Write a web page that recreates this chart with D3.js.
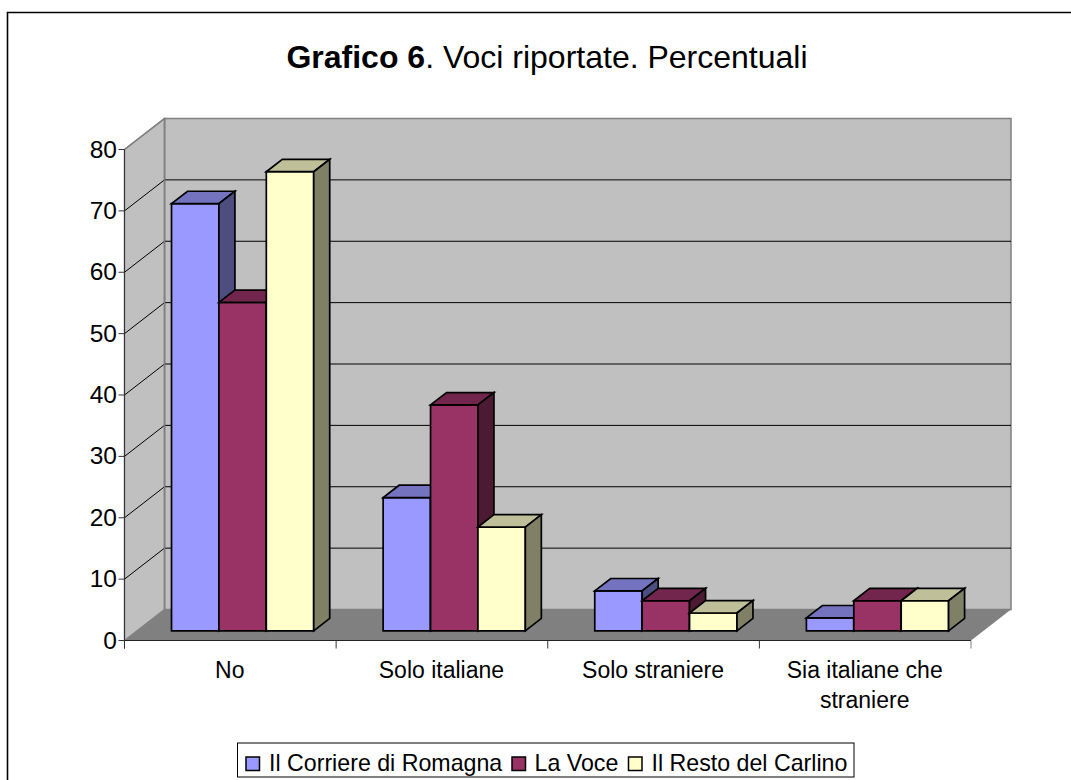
<!DOCTYPE html>
<html><head><meta charset="utf-8">
<script src="https://cdn.jsdelivr.net/npm/d3@7"></script>
<style>html,body{margin:0;padding:0;background:#fff;overflow:hidden}svg{display:block}text{font-family:"Liberation Sans",Arial,sans-serif;fill:#000}</style>
</head><body><svg id="c" width="1071" height="780"></svg>
<script>
const categories = [["No"],["Solo italiane"],["Solo straniere"],["Sia italiane che","straniere"]];
const seriesNames = ["Il Corriere di Romagna","La Voce","Il Resto del Carlino"];
const corriere = [69.6,21.7,6.5,2.1];
const laVoce = [53.5,36.8,4.9,4.9];
const carlino = [74.8,16.9,2.9,4.9];
const seriesValues = [corriere,laVoce,carlino];
const colors = ["#9999ff","#993366","#ffffcc"];
const topColors = ["#7373bf","#73264d","#bfbf99"];
const sideColors = ["#4d4d80","#4d1a33","#808066"];
const ticks = [0,10,20,30,40,50,60,70,80];

const svg = d3.select("#c");
const dep = {x:40, y:-31};
const x = d3.scaleLinear().domain([0,4]).range([124.5,971]);
const y = d3.scaleLinear().domain([0,80]).range([640.5,149.5]);
const poly = (pts,fill,stroke,sw)=>svg.append("polygon").attr("points",pts.map(p=>p.join(",")).join(" ")).attr("fill",fill).attr("stroke",stroke||"none").attr("stroke-width",sw||0).attr("stroke-linejoin","miter");
const line = (a,b,stroke,sw)=>svg.append("line").attr("x1",a[0]).attr("y1",a[1]).attr("x2",b[0]).attr("y2",b[1]).attr("stroke",stroke).attr("stroke-width",sw||1);

// frame: runs past the right and bottom edges of the picture
svg.append("path").attr("d","M7.5,790V12.5H1080").attr("fill","none").attr("stroke","#000").attr("stroke-width",1.6);

// title
const title = svg.append("text").attr("x",547).attr("y",68).attr("text-anchor","middle").attr("font-size",32);
title.append("tspan").attr("font-weight","bold").text("Grafico 6");
title.append("tspan").text(". Voci riportate. Percentuali");

// walls
const x0=x(0), x1=x(4), y0=y(0), yTop=y(80);
poly([[x0+dep.x,yTop+dep.y],[x1+dep.x,yTop+dep.y],[x1+dep.x,y0+dep.y],[x0+dep.x,y0+dep.y]],"#c0c0c0","#808080",1.5);
poly([[x0,yTop],[x0+dep.x,yTop+dep.y],[x0+dep.x,y0+dep.y],[x0,y0]],"#c0c0c0","#808080",1.5);
poly([[x0,y0],[x1,y0],[x1+dep.x,y0+dep.y],[x0+dep.x,y0+dep.y]],"#808080");

// gridlines
ticks.slice(1,-1).forEach(t=>{
  line([x0,y(t)],[x0+dep.x,y(t)+dep.y],"#000",1);
  line([x0+dep.x,y(t)+dep.y],[x1+dep.x,y(t)+dep.y],"#000",1);
});
line([x0,y(80)],[x0+dep.x,y(80)+dep.y],"#808080",1.5);
line([x0+dep.x,y0+dep.y],[x0+dep.x,yTop+dep.y],"#808080",1.5);

// axes
line([x0,yTop],[x0,y0+8],"#333",1);
line([x0,y0],[x1,y0],"#222",1);
ticks.forEach(t=>{
  line([x0-6,y(t)],[x0,y(t)],"#333",1);
  svg.append("text").attr("x",117).attr("y",y(t)+8).attr("text-anchor","end").attr("font-size",24.5).text(t);
});
d3.range(0,5).forEach(i=>line([x(i),y0],[x(i),y0+8],i==4?"#808080":"#333",1));
categories.forEach((c,i)=>{
  c.forEach((s,j)=>svg.append("text").attr("x",x(i+0.5)-0.5).attr("y",677.5+j*30).attr("text-anchor","middle").attr("font-size",23).text(s));
});

// bars
const barW = 47.4, gap = (x(1)-x(0)-3*barW)/2;
const offX = 12.3, offY = -9.7, dX = 16, dY = -12.4;
categories.forEach((c,i)=>{
  seriesValues.forEach((vals,s)=>{
    const l = x(i)+gap+s*barW+offX, r = l+barW;
    const t = y(vals[i])+offY, b = y0+offY;
    poly([[l,b],[r,b],[r,t],[l,t]],colors[s],"#000",1.7);
    poly([[l,t],[r,t],[r+dX,t+dY],[l+dX,t+dY]],topColors[s],"#000",1.7);
    poly([[r,b],[r+dX,b+dY],[r+dX,t+dY],[r,t]],sideColors[s],"#000",1.7);
  });
});

// legend
svg.append("rect").attr("x",237.5).attr("y",743).attr("width",616.5).attr("height",34).attr("fill","#fff").attr("stroke","#000");
const legX=[246,512,628.5];
const legT=[269,534.5,651.5];
seriesNames.forEach((n,i)=>{
  svg.append("rect").attr("x",legX[i]).attr("y",757).attr("width",13.5).attr("height",13.5).attr("fill",colors[i]).attr("stroke","#000").attr("stroke-width",1.5);
  svg.append("text").attr("x",legT[i]).attr("y",771).attr("font-size",23.2).text(n);
});
</script></body></html>
